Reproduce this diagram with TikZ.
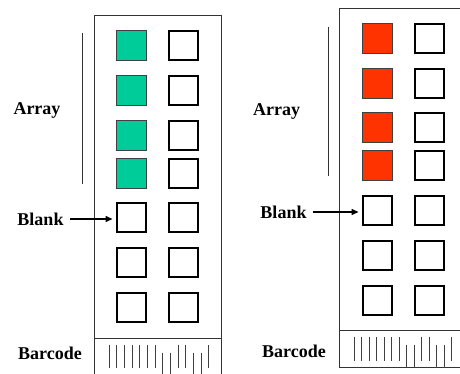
\documentclass[tikz,border=0pt]{standalone}
\usepackage{fontspec}
\setmainfont{Liberation Serif}
\usetikzlibrary{arrows.meta}
\definecolor{wellgreen}{HTML}{00CC99}
\definecolor{wellred}{HTML}{FF3300}
\begin{document}
\begin{tikzpicture}[x=1pt, y=-1pt,
    lbl/.style={font=\bfseries\fontsize{18}{20}\selectfont, inner sep=0pt},
    well/.style={draw=black, line width=2pt, minimum size=29pt, inner sep=0pt},
    spot/.style={draw=black!75, line width=0.8pt, minimum size=30pt, inner sep=0pt, fill=#1},
    frame/.style={draw=black!80, line width=0.9pt},
    bar/.style={draw=black!75, line width=1pt},
    pointer/.style={line width=1.5pt, -{Triangle[length=7pt,width=6pt]}, shorten <=6pt, shorten >=3pt}]
  \useasboundingbox (0,0) rectangle (460,373);
  \clip (0,0) rectangle (460,373);

  % left slide
  \draw[frame] (94,15.5) rectangle (221,376);
  \draw[frame] (94,338) -- (221,338);
  \foreach \r/\y in {1/45.5,2/90.5,3/135,4/173}
    \node[spot=wellgreen] (a\r) at (131,\y) {};
  \foreach \r/\y in {5/217,6/262.5,7/307.5}
    \node[well] (a\r) at (131,\y) {};
  \foreach \r/\y in {1/45.5,2/90.5,3/135,4/173,5/217,6/262.5,7/307.5}
    \node[well] (b\r) at (183.5,\y) {};
  \draw[frame] (82,33) -- (82,184);
  \node[lbl] (arrayL) at (37,110) {Array};
  \node[lbl] (blankL) at (40.5,219) {Blank};
  \node[lbl] (barcodeL) at (50,353) {Barcode};
  \draw[pointer] (blankL.east) -- (blankL.east -| a5.west);
  \foreach \i in {0,...,6,9,10,13}
    \draw[bar] ({109+7.67*\i},345) -- ++(0,23);
  \foreach \i in {7,8,11,12}
    \draw[bar] ({109+7.67*\i},353) -- ++(0,23);

  % right slide
  \draw[frame] (339.3,8.3) rectangle (466,367.7);
  \draw[frame] (339.3,330.7) -- (466,330.7);
  \foreach \r/\y in {1/38.3,2/83,3/127.7,4/165.3}
    \node[spot=wellred] (c\r) at (377,\y) {};
  \foreach \r/\y in {5/210.5,6/255,7/300}
    \node[well] (c\r) at (377,\y) {};
  \foreach \r/\y in {1/38.3,2/83,3/127.7,4/165.3,5/210.5,6/255,7/300}
    \node[well] (d\r) at (429.5,\y) {};
  \draw[frame] (328.3,26.7) -- (328.3,176);
  \node[lbl] (arrayR) at (276.7,111.7) {Array};
  \node[lbl] (blankR) at (283.5,212) {Blank};
  \node[lbl] (barcodeR) at (294,351.7) {Barcode};
  \draw[pointer] (blankR.east) -- (blankR.east -| c5.west);
  \foreach \i in {0,...,6,9,10,13}
    \draw[bar] ({354.3+7.5*\i},337) -- ++(0,23.7);
  \foreach \i in {7,8,11,12}
    \draw[bar] ({354.3+7.5*\i},345) -- ++(0,22.7);
\end{tikzpicture}
\end{document}
